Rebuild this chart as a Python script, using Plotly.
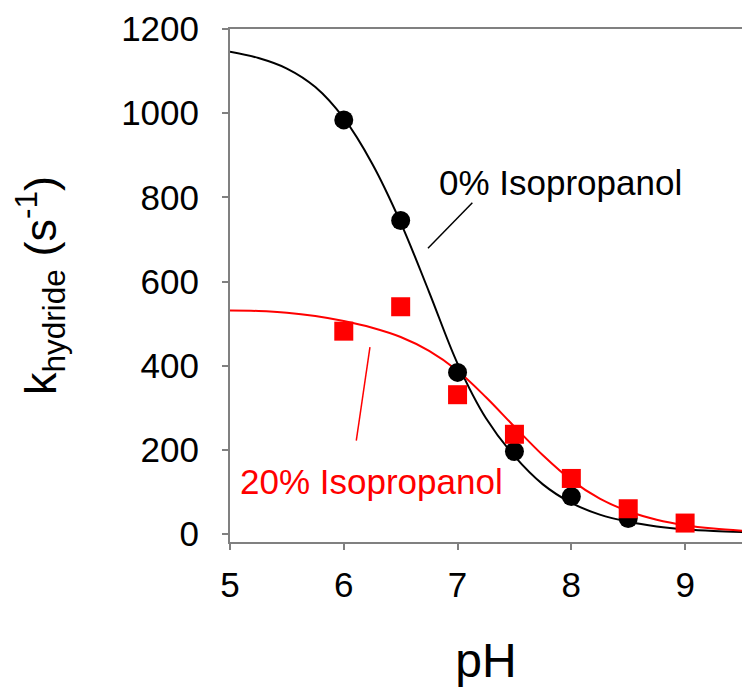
import plotly.graph_objects as go

# Measured data
ph_points = [6.0, 6.5, 7.0, 7.5, 8.0, 8.5]
k_0pct = [984, 745, 384, 196, 89, 37]

ph_points_20 = [6.0, 6.5, 7.0, 7.5, 8.0, 8.5, 9.0]
k_20pct = [482, 540, 331, 237, 132, 60, 26]

# Fitted curves
ph_fit = [5.0, 5.25, 5.5, 5.75, 6.0, 6.25, 6.5, 6.75, 7.0, 7.25, 7.5, 7.75,
          8.0, 8.25, 8.5, 8.75, 9.0, 9.25, 9.5]
fit_0pct = [1146, 1131, 1106, 1062, 988, 880, 740, 575, 405, 275, 185, 118,
            74, 46, 29, 18, 11, 7, 5]
fit_20pct = [531, 530, 526, 518, 506, 490, 468, 435, 388, 325, 255, 187,
             128, 84, 54, 34, 21, 13, 8]

x_ticks = [5, 6, 7, 8, 9]
y_ticks = [0, 200, 400, 600, 800, 1000, 1200]

FONT = "Liberation Sans, Arial, sans-serif"
AX = "#808080"

fig = go.Figure()
fig.add_trace(go.Scatter(x=ph_fit, y=fit_0pct, mode="lines",
                         line=dict(color="black", width=2, shape="spline"),
                         showlegend=False))
fig.add_trace(go.Scatter(x=ph_fit, y=fit_20pct, mode="lines",
                         line=dict(color="#ff0000", width=2, shape="spline"),
                         showlegend=False))
fig.add_trace(go.Scatter(x=ph_points, y=k_0pct, mode="markers",
                         marker=dict(color="black", size=19, symbol="circle"),
                         showlegend=False))
fig.add_trace(go.Scatter(x=ph_points_20, y=k_20pct, mode="markers",
                         marker=dict(color="#ff0000", size=19, symbol="square"),
                         showlegend=False))

# Labels with leader lines
fig.add_annotation(x=6.82, y=836, text="0% Isopropanol", showarrow=False,
                   xanchor="left", yanchor="middle",
                   font=dict(family=FONT, size=35, color="black"))
fig.add_shape(type="line", x0=7.13, y0=787, x1=6.74, y1=679,
              line=dict(color="black", width=1.5))
fig.add_annotation(x=5.07, y=125, text="20% Isopropanol", showarrow=False,
                   xanchor="left", yanchor="middle",
                   font=dict(family=FONT, size=35, color="#ff0000"))
fig.add_shape(type="line", x0=6.23, y0=444, x1=6.11, y1=222,
              line=dict(color="#ff0000", width=1.5))

fig.update_layout(
    width=750, height=695,
    margin=dict(l=222, r=16, t=21, b=161),
    paper_bgcolor="white", plot_bgcolor="white",
    font=dict(family=FONT, color="black"),
)
fig.update_xaxes(
    range=[5, 9.5], tickvals=x_ticks, ticktext=[str(v) for v in x_ticks],
    showgrid=False, zeroline=False, automargin=False,
    showline=True, linecolor=AX, linewidth=2, mirror=True,
    ticks="outside", ticklen=6, tickcolor=AX, tickwidth=1.5,
    tickfont=dict(family=FONT, size=35, color="black"),
    ticklabelstandoff=5,
    title=dict(text="pH", font=dict(family=FONT, size=48, color="black"),
               standoff=40),
)
fig.update_yaxes(
    range=[-19, 1200], tickvals=y_ticks, ticktext=[str(v) for v in y_ticks],
    showgrid=False, zeroline=False, automargin=False,
    showline=True, linecolor=AX, linewidth=2, mirror=True,
    ticks="outside", ticklen=6, tickcolor=AX, tickwidth=1.5,
    tickfont=dict(family=FONT, size=35, color="black"),
    ticklabelstandoff=16,
    title=dict(text="k<sub>hydride</sub> (s<sup>-1</sup>)",
               font=dict(family=FONT, size=45, color="black"), standoff=52),
)

fig.write_html("out.html")
